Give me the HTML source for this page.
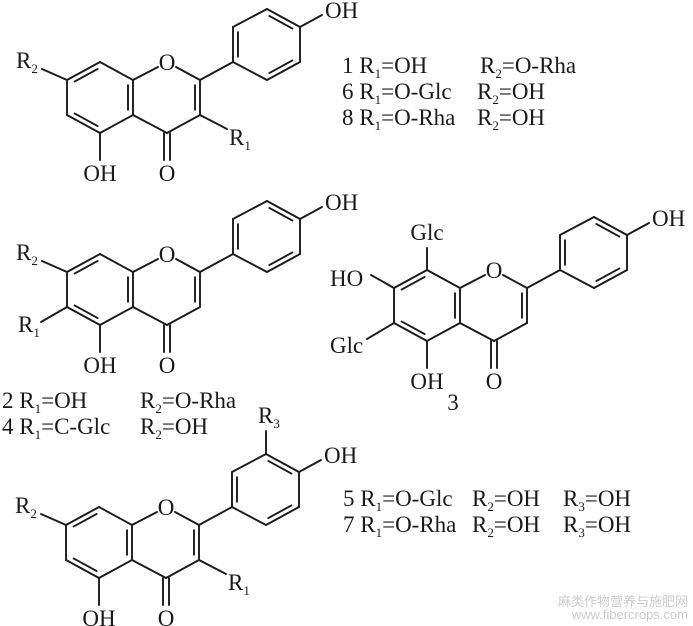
<!DOCTYPE html>
<html><head><meta charset="utf-8"><style>
html,body{margin:0;padding:0;background:#fff;}
svg{display:block;}
text{font-family:"Liberation Serif",serif;font-size:23px;fill:#1a1a1a;}
.s{font-size:13px;}
.wm{font-family:"Liberation Sans","Noto Sans CJK SC",sans-serif;font-size:13px;fill:#ccc;}
</style></head><body>
<svg id="g" width="693" height="626" viewBox="0 0 693 626" xmlns="http://www.w3.org/2000/svg">
<g id="b" stroke="#1a1a1a" stroke-width="1.9" fill="none" stroke-linecap="round"></g>
<g id="t"></g>
<text x="342" y="73">1 R<tspan class="s" dy="5">1</tspan><tspan dy="-5">=OH</tspan></text>
<text x="480" y="73">R<tspan class="s" dy="5">2</tspan><tspan dy="-5">=O-Rha</tspan></text>
<text x="342" y="99">6 R<tspan class="s" dy="5">1</tspan><tspan dy="-5">=O-Glc</tspan></text>
<text x="477" y="99">R<tspan class="s" dy="5">2</tspan><tspan dy="-5">=OH</tspan></text>
<text x="342" y="125">8 R<tspan class="s" dy="5">1</tspan><tspan dy="-5">=O-Rha</tspan></text>
<text x="477" y="125">R<tspan class="s" dy="5">2</tspan><tspan dy="-5">=OH</tspan></text>
<text x="2" y="408">2 R<tspan class="s" dy="5">1</tspan><tspan dy="-5">=OH</tspan></text>
<text x="140" y="408">R<tspan class="s" dy="5">2</tspan><tspan dy="-5">=O-Rha</tspan></text>
<text x="2" y="434">4 R<tspan class="s" dy="5">1</tspan><tspan dy="-5">=C-Glc</tspan></text>
<text x="140" y="434">R<tspan class="s" dy="5">2</tspan><tspan dy="-5">=OH</tspan></text>
<text x="343" y="506">5 R<tspan class="s" dy="5">1</tspan><tspan dy="-5">=O-Glc</tspan></text>
<text x="472" y="506">R<tspan class="s" dy="5">2</tspan><tspan dy="-5">=OH</tspan></text>
<text x="563" y="506">R<tspan class="s" dy="5">3</tspan><tspan dy="-5">=OH</tspan></text>
<text x="343" y="532">7 R<tspan class="s" dy="5">1</tspan><tspan dy="-5">=O-Rha</tspan></text>
<text x="472" y="532">R<tspan class="s" dy="5">2</tspan><tspan dy="-5">=OH</tspan></text>
<text x="563" y="532">R<tspan class="s" dy="5">3</tspan><tspan dy="-5">=OH</tspan></text>
<text x="453" y="410" text-anchor="middle">3</text>
<text class="wm" x="688" y="606" text-anchor="end">麻类作物营养与施肥网</text>
<text class="wm" x="688" y="619" text-anchor="end">www.fibercrops.com</text>
</svg>
<script>
var B=document.getElementById('b'),T=document.getElementById('t'),NS='http://www.w3.org/2000/svg';
function ln(a,b,c,d){var l=document.createElementNS(NS,'line');l.setAttribute('x1',a);l.setAttribute('y1',b);l.setAttribute('x2',c);l.setAttribute('y2',d);B.appendChild(l);}
function tx(x,y,s,anchor){var t=document.createElementNS(NS,'text');t.setAttribute('x',x);t.setAttribute('y',y);if(anchor)t.setAttribute('text-anchor',anchor);t.innerHTML=s;T.appendChild(t);}
function mol(dx,dy,o){
 var P={C7:[67,80],C8:[100,62],C8a:[133,80],C4a:[133,115],C5:[100,133],C6:[67,115],C2:[200,80],C3:[200,115],C4:[167,133],
 a1:[233,62],a2:[233,27],a3:[267,9],a4:[300,27],a5:[300,62],a6:[267,80]};
 function p(k){return [P[k][0]+dx,P[k][1]+dy];}
 function bond(a,b){var A=p(a),C=p(b);ln(A[0],A[1],C[0],C[1]);}
 function dbl(a,b,cx,cy){var A=p(a),C=p(b);ln(A[0],A[1],C[0],C[1]);
  cx+=dx;cy+=dy;var mx=(A[0]+C[0])/2,my=(A[1]+C[1])/2,vx=cx-mx,vy=cy-my,L=Math.hypot(vx,vy);vx/=L;vy/=L;
  var ex=C[0]-A[0],ey=C[1]-A[1];var s=0.15;
  ln(A[0]+ex*s+vx*5,A[1]+ey*s+vy*5,C[0]-ex*s+vx*5,C[1]-ey*s+vy*5);}
 dbl('C7','C8',100,97.5);bond('C8','C8a');dbl('C8a','C4a',100,97.5);bond('C4a','C5');dbl('C5','C6',100,97.5);bond('C6','C7');
 ln(133+dx,80+dy,158+dx,67+dy);ln(176+dx,67+dy,200+dx,80+dy);tx(167+dx,70+dy,'O','middle');
 dbl('C2','C3',167,97.5);bond('C3','C4');bond('C4','C4a');
 ln(164+dx,133+dy,164+dx,160+dy);ln(170+dx,133+dy,170+dx,160+dy);tx(167+dx,181+dy,'O','middle');
 ln(100+dx,133+dy,100+dx,160+dy);tx(100+dx,181+dy,'OH','middle');
 bond('C2','a1');dbl('a1','a2',267,44.5);bond('a2','a3');dbl('a3','a4',267,44.5);bond('a4','a5');dbl('a5','a6',267,44.5);bond('a6','a1');
 ln(300+dx,27+dy,322+dx,15+dy);tx(325+dx,18+dy,'OH');
 if(o.r1c3){ln(200+dx,115+dy,227+dx,129+dy);tx(229+dx,145+dy,'R<tspan class="s" dy="5">1</tspan>');}
 if(o.r2){ln(67+dx,80+dy,42+dx,69+dy);tx(16+dx,68+dy,'R<tspan class="s" dy="5">2</tspan>');}
 if(o.r1c6){ln(67+dx,115+dy,41+dx,130+dy);tx(18+dx,140+dy,'R<tspan class="s" dy="5">1</tspan>');}
 if(o.r3){ln(267+dx,9+dy,267+dx,-14+dy);tx(259+dx,-22+dy,'R<tspan class="s" dy="5">3</tspan>');}
 if(o.glc){ln(100+dx,62+dy,100+dx,40+dy);tx(100+dx,32+dy,'Glc','middle');
  ln(67+dx,80+dy,44+dx,67+dy);tx(3+dx,78+dy,'HO');
  ln(67+dx,115+dy,40+dx,131+dy);tx(3+dx,145+dy,'Glc');}
}
mol(0,0,{r1c3:1,r2:1});
mol(0,192,{r2:1,r1c6:1});
mol(327,208,{glc:1});
mol(-1,445,{r1c3:1,r2:1,r3:1});
</script>
</body></html>
